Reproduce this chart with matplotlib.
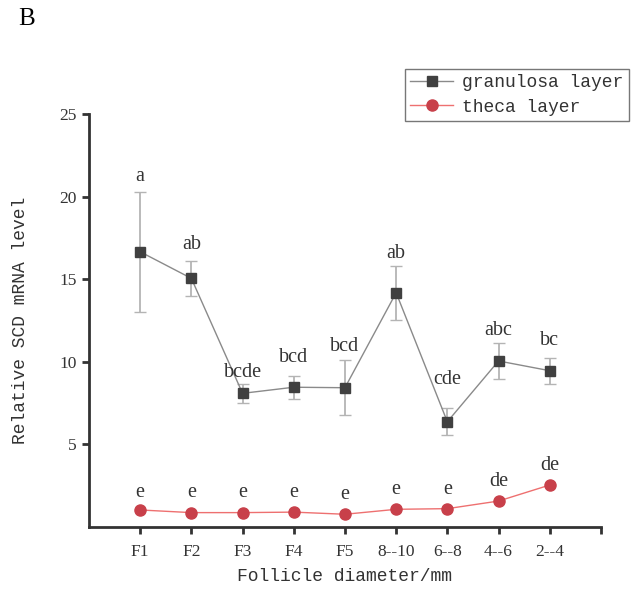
import matplotlib
matplotlib.use("Agg")
import matplotlib.pyplot as plt
import numpy as np

# data
groups = ["F1", "F2", "F3", "F4", "F5", "8--10", "6--8", "4--6", "2--4"]
granulosa = [16.66, 15.05, 8.09, 8.46, 8.43, 14.18, 6.37, 10.05, 9.46]
granulosa_err = [3.64, 1.05, 0.58, 0.70, 1.65, 1.63, 0.82, 1.10, 0.78]
granulosa_sig = ["a", "ab", "bcde", "bcd", "bcd", "ab", "cde", "abc", "bc"]
granulosa_sig_y = [21.2, 17.1, 9.34, 10.25, 10.9, 16.57, 8.94, 11.9, 11.28]

theca = [1.03, 0.87, 0.87, 0.90, 0.77, 1.07, 1.11, 1.57, 2.54]
theca_sig = ["e", "e", "e", "e", "e", "e", "e", "de", "de"]
theca_sig_y = [2.08, 2.08, 2.08, 2.08, 1.94, 2.24, 2.24, 2.74, 3.75]

x = np.arange(1, len(groups) + 1)

fig = plt.figure(figsize=(6.42, 5.90), dpi=100)
ax = fig.add_axes([0.1386, 0.1068, 0.7974, 0.70])

# granulosa layer
ax.errorbar(x, granulosa, yerr=granulosa_err, fmt="none", ecolor="#b4b4b4",
            elinewidth=1.3, capsize=4, capthick=1.0, zorder=2)
ax.plot(x, granulosa, color="#8a8a8a", lw=1.0, marker="s", ms=7,
        mfc="#404040", mec="#404040", label="granulosa layer", zorder=3)

# theca layer
ax.plot(x, theca, color="#ee7070", lw=1.0, marker="o", ms=8,
        mfc="#c8404a", mec="#c8404a", label="theca layer", zorder=3)

# significance letters
for xi, s, yy in zip(x, granulosa_sig, granulosa_sig_y):
    ax.text(xi, yy, s, ha="center", va="center", fontsize=14.5,
            family="Liberation Serif", color="#333333")
for xi, s, yy in zip(x, theca_sig, theca_sig_y):
    ax.text(xi, yy, s, ha="center", va="center", fontsize=14.5,
            family="Liberation Serif", color="#333333")

ax.set_xlim(0, 10)
ax.set_ylim(0, 25)
ax.set_xticks(list(x) + [10])
ax.set_xticklabels(groups + [""], family="Liberation Serif", fontsize=12.5)
ax.set_yticks([5, 10, 15, 20, 25])
ax.set_yticklabels(["5", "10", "15", "20", "25"], family="Liberation Serif", fontsize=12.5)
ax.tick_params(direction="out", length=5, width=2, color="#333333", labelcolor="#333333")
ax.tick_params(axis="x", pad=7)
ax.tick_params(axis="y", pad=4)

for s in ["top", "right"]:
    ax.spines[s].set_visible(False)
for s in ["left", "bottom"]:
    ax.spines[s].set_linewidth(2)
    ax.spines[s].set_color("#333333")

ax.set_xlabel("Follicle diameter/mm", family="Liberation Mono", fontsize=13,
              color="#333333", labelpad=6)
ax.set_ylabel("Relative SCD mRNA level", family="Liberation Mono", fontsize=13,
              color="#333333", labelpad=22)

leg = fig.legend(loc="upper right", bbox_to_anchor=(0.98, 0.883),
                 prop={"family": "Liberation Mono", "size": 13},
                 frameon=True, fancybox=False, edgecolor="#555555",
                 borderpad=0.3, handlelength=2.4, handletextpad=0.5,
                 labelspacing=0.4, borderaxespad=0)
leg.get_frame().set_linewidth(1.0)
for t in leg.get_texts():
    t.set_color("#333333")

fig.text(0.028, 0.968, "B", family="Liberation Serif", fontsize=18, va="center")

fig.savefig("out.png", dpi=100)
